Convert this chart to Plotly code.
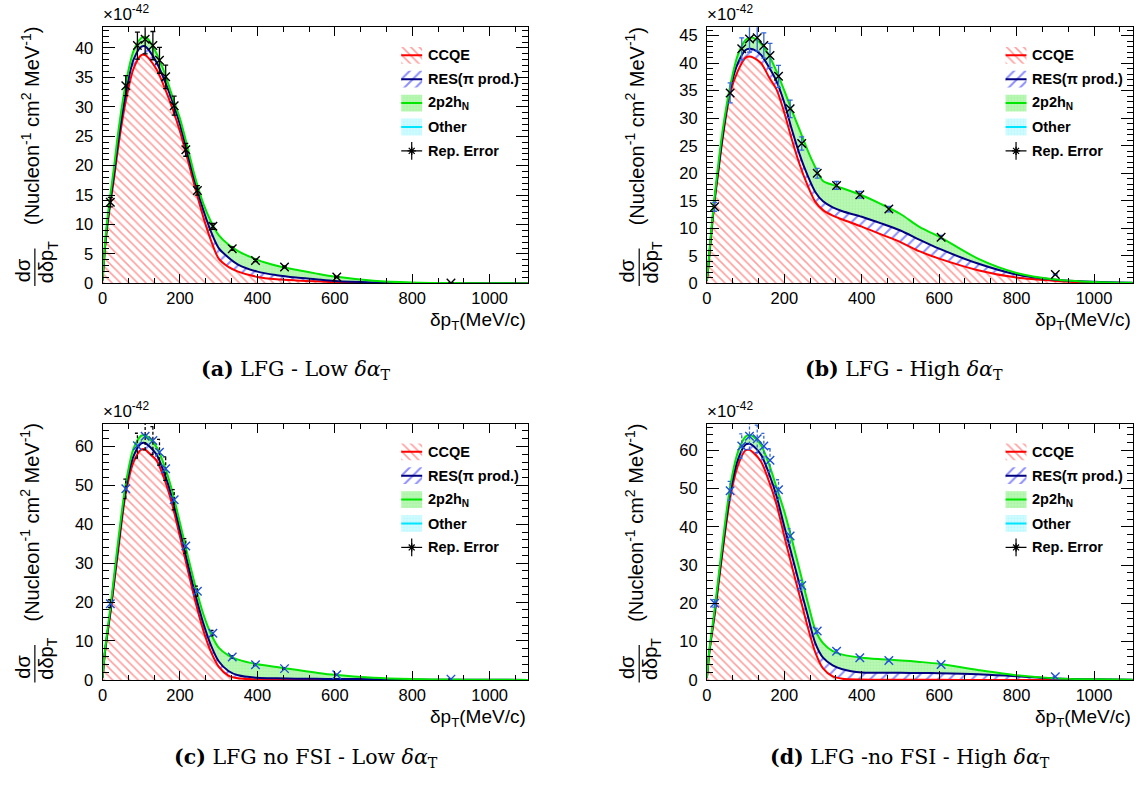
import plotly.graph_objects as go

W, H = 1139, 791

# Fine-binned curve abscissa (MeV/c)
dpt = [0, 5, 10, 20, 30, 40, 60, 80, 100, 110, 120, 140, 160, 180, 200, 220,
       240, 260, 280, 300, 325, 350, 400, 450, 500, 550, 600, 700, 800, 900, 1000, 1100]

# Stacked levels (units of 1e-42): CCQE, CCQE+RES, CCQE+RES+2p2h
ccqe_a = [0.5, 5, 8.5, 13.5, 18, 23, 31, 36.5, 38.8, 38.8, 38.2, 36.3, 33.3, 29.8, 25.8, 21,
          16, 11.3, 7.3, 4.2, 2.8, 2.0, 1.1, 0.7, 0.5, 0.35, 0.2, 0.08, 0.04, 0.02, 0.01, 0]
ccqe_res_a = [0.5, 5.2, 8.8, 14, 18.8, 24, 32.3, 38, 40.2, 40.3, 39.6, 37.5, 34.5, 31, 27, 22,
              17, 12.5, 8.8, 6.0, 4.4, 3.2, 2.0, 1.4, 1.0, 0.7, 0.4, 0.15, 0.06, 0.03, 0.01, 0]
total_a = [0.5, 5.5, 9.5, 15, 20, 25.5, 34, 39.5, 41.7, 41.9, 41.3, 39, 35.8, 31.8, 28, 23,
           17.8, 13.6, 10.5, 8.2, 6.6, 5.5, 4.0, 3.0, 2.3, 1.7, 1.15, 0.45, 0.15, 0.05, 0.02, 0]

ccqe_b = [0.5, 4, 8, 15, 20.5, 26, 34.5, 38.6, 41, 41.2, 41, 40, 37.5, 35.2, 31, 26,
          21.5, 17.8, 14.8, 13.3, 12.3, 11.6, 10.3, 8.9, 7.5, 5.8, 4.5, 2.4, 1.05, 0.45, 0.15, 0.05]
ccqe_res_b = [0.5, 4.2, 8.3, 15.3, 21, 26.5, 35.2, 40, 42.4, 42.6, 42.5, 41.5, 39.3, 36.7, 32.8, 27.8,
              23.3, 19.6, 16.6, 14.9, 13.8, 13.1, 12.1, 10.9, 9.6, 7.9, 6.3, 3.6, 1.6, 0.65, 0.28, 0.1]
total_b = [0.5, 4.5, 8.6, 15.8, 22, 27.5, 35.8, 41.5, 44.2, 44.6, 44.6, 43.5, 41.5, 38.5, 35, 31.3,
           27.8, 24.2, 21.1, 18.6, 17.9, 17.3, 16, 14.4, 12.6, 10.2, 8.5, 4.5, 1.9, 0.7, 0.25, 0.1]

ccqe_c = [0.5, 6, 10, 17, 25, 33, 48, 56, 59.2, 59.2, 58.3, 56.3, 51.5, 45, 36.8, 28.3,
          20, 12.8, 7.2, 3.4, 1.1, 0.4, 0.1, 0.05, 0.02, 0.01, 0.01, 0, 0, 0, 0, 0]
ccqe_res_c = [0.5, 6.2, 10.3, 17.5, 25.8, 34, 49.2, 57.5, 60.8, 60.9, 60.1, 57.8, 53, 46.7, 38.5, 30,
              21.8, 14.6, 8.9, 4.8, 2.3, 1.2, 0.55, 0.4, 0.32, 0.28, 0.25, 0.18, 0.1, 0.05, 0.02, 0]
total_c = [0.5, 6.5, 10.8, 18.5, 27, 35.5, 50.5, 59.5, 62.8, 62.9, 62.2, 59.8, 55, 48.5, 40.3, 32,
           24, 17, 11.8, 8.3, 6.3, 5.2, 4.0, 3.3, 2.6, 1.9, 1.3, 0.55, 0.22, 0.08, 0.03, 0]

ccqe_d = [0.5, 6, 10, 17, 25, 33, 47.5, 56, 60, 60.1, 59.4, 57, 52, 45.8, 37.5, 29.5,
          21.8, 14, 7.2, 3, 0.9, 0.3, 0.1, 0.05, 0.02, 0.01, 0.01, 0, 0, 0, 0, 0]
ccqe_res_d = [0.5, 6.2, 10.3, 17.5, 25.8, 34, 48.8, 57.5, 61.5, 61.7, 61.1, 58.8, 54, 48, 40, 32.4,
              24.6, 17, 9.6, 5.8, 3.8, 2.8, 1.95, 1.9, 1.85, 1.8, 1.75, 1.5, 0.95, 0.4, 0.15, 0.05]
total_d = [0.5, 6.5, 10.8, 18.5, 27, 35.5, 50.5, 59.5, 63.6, 64, 63.6, 61.3, 56.5, 50.3, 44, 36.5,
           28.5, 20.5, 13.1, 9.6, 7.5, 6.6, 5.8, 5.4, 5.1, 4.7, 4.2, 2.6, 1.2, 0.4, 0.15, 0.05]

# Reported points (bin centres) with errors
bin_centre = [20, 60, 90, 110, 130, 147, 163, 185, 215, 245, 285, 335, 395, 470, 605, 900]
rep_a = [13.8, 33.6, 40.4, 41.5, 40.4, 37.9, 35.1, 30.2, 22.7, 15.8, 9.7, 5.9, 3.9, 2.8, 1.1, 0.05]
err_a = [0.8, 1.7, 2.3, 2.5, 2.4, 2.2, 2.0, 1.6, 1.1, 0.8, 0.5, 0.3, 0.2, 0.15, 0.1, 0.02]
rep_b = [13.9, 34.6, 42.6, 44.4, 44.6, 43.2, 41.4, 37.6, 31.7, 25.4, 20.0, 17.8, 16.1, 13.5, 8.4, 1.6]
err_b = [0.8, 1.8, 2.0, 2.4, 2.4, 2.3, 2.2, 2.0, 1.6, 1.2, 0.9, 0.7, 0.6, 0.5, 0.3, 0.1]
rep_c = [19.6, 49.1, 60.2, 62.6, 61.5, 58.5, 54.3, 46.3, 34.4, 22.8, 12.0, 5.9, 3.9, 2.9, 1.3, 0.2]
err_c = [1.0, 2.5, 3.2, 3.5, 3.6, 3.3, 3.0, 2.6, 1.9, 1.3, 0.7, 0.35, 0.25, 0.2, 0.1, 0.03]
rep_d = [20.0, 49.4, 61.1, 63.7, 63.0, 61.1, 57.4, 49.7, 37.6, 24.7, 12.8, 7.5, 5.8, 5.1, 4.0, 0.85]
err_d = [1.0, 2.5, 3.2, 3.5, 3.6, 3.3, 3.0, 2.6, 1.9, 1.3, 0.7, 0.4, 0.3, 0.25, 0.2, 0.05]

legend_labels = ["CCQE", "RES(π prod.)", "2p2h<sub>N</sub>", "Other", "Rep. Error"]
captions = ["<b>(a)</b> LFG - Low <i>δα</i><sub>T</sub>",
            "<b>(b)</b> LFG - High <i>δα</i><sub>T</sub>",
            "<b>(c)</b> LFG no FSI - Low <i>δα</i><sub>T</sub>",
            "<b>(d)</b> LFG -no FSI - High <i>δα</i><sub>T</sub>"]

RED, NAVY, GREEN, CYAN = "#ff0000", "#000080", "#00e600", "#00e5ff"
RED_HATCH = dict(shape="\\", fgcolor="#ff3b3b", bgcolor="white", size=6, solidity=0.26)
BLUE_HATCH = dict(shape="/", fgcolor="#1a1aff", bgcolor="white", size=8, solidity=0.25)
GREEN_FILL = dict(shape=".", fgcolor="#92ee8d", bgcolor="#b9f8b5", size=3, solidity=0.3)
CYAN_FILL = dict(shape=".", fgcolor="#9af3ff", bgcolor="#d2fbff", size=3, solidity=0.3)

SANS = "Liberation Sans, Arial, sans-serif"
X_MAX = 1100
PANEL_W, PANEL_H = 427.7, 259.3
panels = [
    dict(left=98, top=26.7, ccqe=ccqe_a, cr=ccqe_res_a, tot=total_a, rep=rep_a, err=err_a,
         ymax=43.5, dy=5, mdy=1, mk="black", ek="black", edash="solid"),
    dict(left=705, top=26.7, ccqe=ccqe_b, cr=ccqe_res_b, tot=total_b, rep=rep_b, err=err_b,
         ymax=46.5, dy=5, mdy=1, mk="black", ek="#3366dd", edash="solid"),
    dict(left=98, top=428.3, ccqe=ccqe_c, cr=ccqe_res_c, tot=total_c, rep=rep_c, err=err_c,
         ymax=65.8, dy=10, mdy=2, mk="#1f4fd6", ek="black", edash="3px,2px"),
    dict(left=705, top=428.3, ccqe=ccqe_d, cr=ccqe_res_d, tot=total_d, rep=rep_d, err=err_d,
         ymax=66.9, dy=10, mdy=2, mk="#1f4fd6", ek="#3366dd", edash="3px,2px"),
]


def px(x):
    return x / W


def py(y):
    return 1 - y / H


fig = go.Figure()
annotations = []
shapes = []
tick_font = dict(family=SANS, size=16.5, color="black")

for i, p in enumerate(panels):
    n = "" if i == 0 else str(i + 1)
    xa, ya = "x" + n, "y" + n
    ymax = p["ymax"]

    # stacked contributions
    fig.add_trace(go.Scatter(x=dpt, y=p["ccqe"], mode="lines", xaxis=xa, yaxis=ya,
                             line=dict(color=RED, width=2, shape="spline", smoothing=0.8),
                             fill="tozeroy", fillpattern=RED_HATCH, hoverinfo="skip"))
    fig.add_trace(go.Scatter(x=dpt, y=p["cr"], mode="lines", xaxis=xa, yaxis=ya,
                             line=dict(color=NAVY, width=2, shape="spline", smoothing=0.8),
                             fill="tonexty", fillpattern=BLUE_HATCH, hoverinfo="skip"))
    fig.add_trace(go.Scatter(x=dpt, y=p["tot"], mode="lines", xaxis=xa, yaxis=ya,
                             line=dict(color=GREEN, width=2, shape="spline", smoothing=0.8),
                             fill="tonexty", fillpattern=GREEN_FILL, hoverinfo="skip"))

    # reported points: vertical error bars with small end caps
    cap = 2.5 / PANEL_W * X_MAX
    ex, ey = [], []
    for xc, yv, e in zip(bin_centre, p["rep"], p["err"]):
        ex += [xc, xc, None, xc - cap, xc + cap, None, xc - cap, xc + cap, None]
        ey += [yv - e, yv + e, None, yv + e, yv + e, None, yv - e, yv - e, None]
    fig.add_trace(go.Scatter(x=ex, y=ey, mode="lines", xaxis=xa, yaxis=ya,
                             line=dict(color=p["ek"], width=1.3, dash=p["edash"]),
                             hoverinfo="skip"))
    fig.add_trace(go.Scatter(x=bin_centre, y=p["rep"], mode="markers", xaxis=xa, yaxis=ya,
                             marker=dict(symbol="x-thin-open", size=8.5, color=p["mk"],
                                         line=dict(color=p["mk"], width=1.4)),
                             hoverinfo="skip"))

    # legend swatches (in axis units)
    def dx(f):
        return f / PANEL_W * X_MAX

    def dyv(f):
        return (1 - f / PANEL_H) * ymax

    sx0, sx1 = dx(300), dx(321)
    rows = [28.3 + 24.2 * k for k in range(5)]
    specs = [(RED_HATCH, RED), (BLUE_HATCH, NAVY), (GREEN_FILL, GREEN), (CYAN_FILL, CYAN)]
    for k, (pat, lc) in enumerate(specs):
        yc = rows[k]
        y0, y1 = dyv(yc + 8.5), dyv(yc - 8.5)
        fig.add_trace(go.Scatter(x=[sx0, sx1, sx1, sx0, sx0], y=[y0, y0, y1, y1, y0],
                                 mode="lines", xaxis=xa, yaxis=ya, line=dict(width=0),
                                 fill="toself", fillpattern=pat, hoverinfo="skip"))
        fig.add_trace(go.Scatter(x=[sx0, sx1], y=[dyv(yc), dyv(yc)], mode="lines",
                                 xaxis=xa, yaxis=ya, line=dict(color=lc, width=2),
                                 hoverinfo="skip"))
    yc = rows[4]
    xm = (sx0 + sx1) / 2
    fig.add_trace(go.Scatter(x=[sx0, sx1, None, xm, xm], y=[dyv(yc), dyv(yc), None,
                                                            dyv(yc + 9), dyv(yc - 9)],
                             mode="lines", xaxis=xa, yaxis=ya,
                             line=dict(color="black", width=1.2), hoverinfo="skip"))
    fig.add_trace(go.Scatter(x=[xm], y=[dyv(yc)], mode="markers", xaxis=xa, yaxis=ya,
                             marker=dict(symbol="asterisk-open", size=7, color="black",
                                         line=dict(color="black", width=1.3)),
                             hoverinfo="skip"))
    for k, lab in enumerate(legend_labels):
        annotations.append(dict(x=px(p["left"] + 325), y=py(p["top"] + rows[k]),
                                xref="paper", yref="paper", xanchor="left", yanchor="middle",
                                text="<b>%s</b>" % lab, showarrow=False,
                                font=dict(family=SANS, size=14.5, color="black")))

    # axes
    common = dict(showline=True, linecolor="black", linewidth=1, mirror="allticks",
                  ticks="inside", tickcolor="black", showgrid=False, zeroline=False,
                  tickfont=tick_font, fixedrange=True)
    left, top = p["left"], p["top"]
    fig.layout["xaxis" + n] = dict(common, domain=[px(left), px(left + PANEL_W)],
                                   anchor=ya, range=[0, X_MAX], tick0=0, dtick=200,
                                   ticklen=9,
                                   minor=dict(ticks="inside", dtick=200 / 3, ticklen=5,
                                              tickcolor="black"))
    fig.layout["yaxis" + n] = dict(common, domain=[py(top + PANEL_H), py(top)],
                                   anchor=xa, range=[0, ymax], tick0=0, dtick=p["dy"],
                                   ticklen=12, ticklabelstandoff=5,
                                   minor=dict(ticks="inside", dtick=p["mdy"], ticklen=6,
                                              tickcolor="black"))

    # exponent, axis titles
    annotations.append(dict(x=px(left - 2), y=py(top - 1), xref="paper", yref="paper",
                            xanchor="left", yanchor="bottom", showarrow=False,
                            text="×10<sup>-42</sup>",
                            font=dict(family=SANS, size=17, color="black")))
    annotations.append(dict(x=px(left + PANEL_W), y=py(top + PANEL_H + 24), xref="paper",
                            yref="paper", xanchor="right", yanchor="top", showarrow=False,
                            text="δp<sub>T</sub>(MeV/c)",
                            font=dict(family=SANS, size=19, color="black")))
    lx = left - 98
    annotations.append(dict(x=px(lx + 25), y=py(top + 100), xref="paper", yref="paper",
                            xanchor="center", yanchor="middle", showarrow=False, textangle=-90,
                            text="(Nucleon<sup>-1</sup> cm<sup>2</sup> MeV<sup>-1</sup>)",
                            font=dict(family=SANS, size=20, color="black")))
    annotations.append(dict(x=px(lx + 18), y=py(top + 246), xref="paper", yref="paper",
                            xanchor="center", yanchor="middle", showarrow=False, textangle=-90,
                            text="dσ", font=dict(family=SANS, size=20, color="black")))
    annotations.append(dict(x=px(lx + 43), y=py(top + 238), xref="paper", yref="paper",
                            xanchor="center", yanchor="middle", showarrow=False, textangle=-90,
                            text="dδp<sub>T</sub>",
                            font=dict(family=SANS, size=20, color="black")))
    shapes.append(dict(type="line", xref="paper", yref="paper",
                       x0=px(lx + 30), x1=px(lx + 30), y0=py(top + 224), y1=py(top + 262),
                       line=dict(color="black", width=1.2)))

# sub-figure captions
cap_pos = [(292, 374), (903, 374), (302, 767), (909, 767)]
for (cx, cy), txt in zip(cap_pos, captions):
    annotations.append(dict(x=px(cx), y=py(cy), xref="paper", yref="paper",
                            xanchor="center", yanchor="middle", showarrow=False, text=txt,
                            font=dict(family="DejaVu Serif, Liberation Serif, serif",
                                      size=20.5, color="black")))

fig.update_layout(width=W, height=H, margin=dict(l=0, r=0, t=0, b=0),
                  paper_bgcolor="white", plot_bgcolor="white", showlegend=False,
                  annotations=annotations, shapes=shapes)

fig.write_html("out.html")
